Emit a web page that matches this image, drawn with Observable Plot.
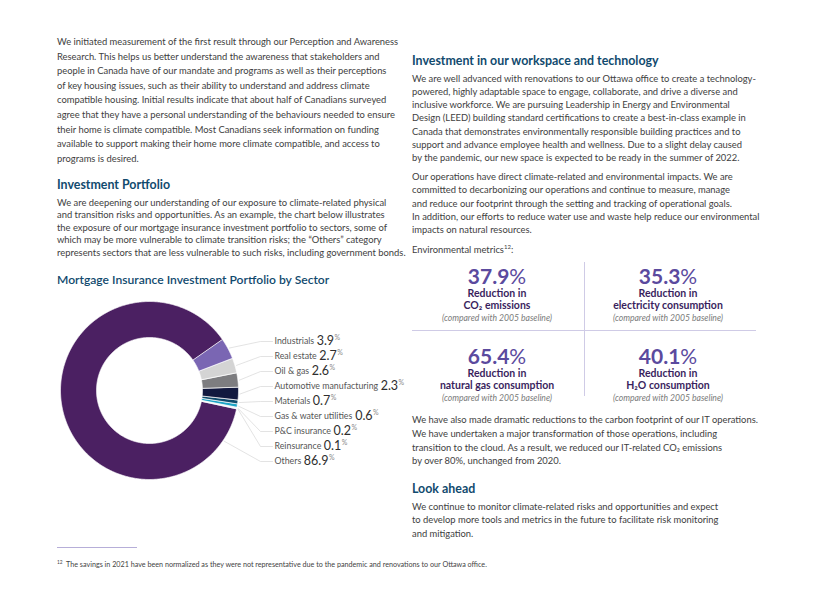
<!DOCTYPE html>
<html><head><meta charset="utf-8">
<script src="https://cdn.jsdelivr.net/npm/d3@7"></script>
<script src="https://cdn.jsdelivr.net/npm/@observablehq/plot@0.6"></script>
<style>
body{margin:0;background:#fff;}
#page{position:relative;width:820px;height:596px;font-family:Lato,"Open Sans",sans-serif;color:#3e3e3e;overflow:hidden;background:#fff}
.p{position:absolute;font-size:9.4px;white-space:nowrap}
.h{position:absolute;font-size:12.4px;font-weight:700;color:#114a6e;white-space:nowrap;line-height:14px}
.cell{position:absolute;width:170px;text-align:center;white-space:nowrap}
.big{font-size:21px;font-weight:700;color:#5b4a9e;line-height:22px}
.big span{font-weight:400}
.lab{font-size:10.5px;font-weight:700;color:#3a1f5e;line-height:12.3px}
.cmp{font-size:8.6px;font-style:italic;color:#7a7a7a;line-height:12px}
.rule{position:absolute;background:#cfcbe6}
#chart{position:absolute;left:50px;top:292px}
</style></head>
<body><div id="page">

<div class="p" style="left:57px;top:35px;line-height:14.6px">We initiated measurement of the first result through our Perception and Awareness<br>Research. This helps us better understand the awareness that stakeholders and<br>people in Canada have of our mandate and programs as well as their perceptions<br>of key housing issues, such as their ability to understand and address climate<br>compatible housing. Initial results indicate that about half of Canadians surveyed<br>agree that they have a personal understanding of the behaviours needed to ensure<br>their home is climate compatible. Most Canadians seek information on funding<br>available to support making their home more climate compatible, and access to<br>programs is desired.</div>

<div class="h" style="left:57px;top:178px">Investment Portfolio</div>
<div class="p" style="left:57px;top:196.5px;line-height:12.6px">We are deepening our understanding of our exposure to climate-related physical<br>and transition risks and opportunities. As an example, the chart below illustrates<br>the exposure of our mortgage insurance investment portfolio to sectors, some of<br>which may be more vulnerable to climate transition risks; the “Others” category<br>represents sectors that are less vulnerable to such risks, including government bonds.</div>

<div class="h" style="left:57px;top:273px;font-size:12.1px;font-weight:600">Mortgage Insurance Investment Portfolio by Sector</div>
<div id="chart"></div>

<div class="h" style="left:412px;top:54px">Investment in our workspace and technology</div>
<div class="p" style="left:412px;top:71.5px;line-height:13.3px">We are well advanced with renovations to our Ottawa office to create a technology-<br>powered, highly adaptable space to engage, collaborate, and drive a diverse and<br>inclusive workforce. We are pursuing Leadership in Energy and Environmental<br>Design (LEED) building standard certifications to create a best-in-class example in<br>Canada that demonstrates environmentally responsible building practices and to<br>support and advance employee health and wellness. Due to a slight delay caused<br>by the pandemic, our new space is expected to be ready in the summer of 2022.</div>
<div class="p" style="left:412px;top:170px;line-height:13.3px">Our operations have direct climate-related and environmental impacts. We are<br>committed to decarbonizing our operations and continue to measure, manage<br>and reduce our footprint through the setting and tracking of operational goals.<br>In addition, our efforts to reduce water use and waste help reduce our environmental<br>impacts on natural resources.</div>
<div class="p" style="left:412px;top:239.5px;line-height:14px">Environmental metrics<sup style="font-size:6px">12</sup>:</div>

<div class="rule" style="left:584px;top:262px;width:1px;height:134px"></div>
<div class="rule" style="left:412px;top:330px;width:344px;height:1px"></div>

<div class="cell" style="left:412px;top:265px"><div class="big">37.9<span>%</span></div><div class="lab">Reduction in</div><div class="lab">CO₂ emissions</div><div class="cmp">(compared with 2005 baseline)</div></div>
<div class="cell" style="left:583px;top:265px"><div class="big">35.3<span>%</span></div><div class="lab">Reduction in</div><div class="lab">electricity consumption</div><div class="cmp">(compared with 2005 baseline)</div></div>
<div class="cell" style="left:412px;top:345px"><div class="big">65.4<span>%</span></div><div class="lab">Reduction in</div><div class="lab">natural gas consumption</div><div class="cmp">(compared with 2005 baseline)</div></div>
<div class="cell" style="left:583px;top:345px"><div class="big">40.1<span>%</span></div><div class="lab">Reduction in</div><div class="lab">H₂O consumption</div><div class="cmp">(compared with 2005 baseline)</div></div>

<div class="p" style="left:412px;top:413px;line-height:13.8px">We have also made dramatic reductions to the carbon footprint of our IT operations.<br>We have undertaken a major transformation of those operations, including<br>transition to the cloud. As a result, we reduced our IT-related CO₂ emissions<br>by over 80%, unchanged from 2020.</div>
<div class="h" style="left:412px;top:482px">Look ahead</div>
<div class="p" style="left:412px;top:500px;line-height:13.3px">We continue to monitor climate-related risks and opportunities and expect<br>to develop more tools and metrics in the future to facilitate risk monitoring<br>and mitigation.</div>

<div class="rule" style="left:57px;top:547px;width:80px;height:1px;background:#b6aed8"></div>
<div class="p" style="left:57px;top:557px;font-size:7.2px;line-height:10px;color:#444"><sup style="font-size:4.8px">12</sup>&nbsp; The savings in 2021 have been normalized as they were not representative due to the pandemic and renovations to our Ottawa office.</div>

</div>
<script>
const sectors = ["Industrials","Real estate","Oil & gas","Automotive manufacturing","Materials","Gas & water utilities","P&C insurance","Reinsurance","Others"];
const shares = [3.9, 2.7, 2.6, 2.3, 0.7, 0.6, 0.2, 0.1, 86.9];
const colors = ["#7a66b3","#d4d4d4","#7d7d80","#12193f","#0f4b6c","#1ca3c5","#e4e7ee","#9a7dc2","#4b2062"];

const deg = Math.PI / 180;
const start = 55 * deg;
const R = 89, r0 = 53;
const arcs = d3.pie().sort(null).value(d => d).startAngle(start).endAngle(start + 2 * Math.PI)(shares);

const slicePts = [];
arcs.forEach((a, i) => {
  const n = Math.max(2, Math.ceil((a.endAngle - a.startAngle) / (0.5 * deg)));
  for (let k = 0; k <= n; k++) {
    const t = a.startAngle + (a.endAngle - a.startAngle) * k / n;
    slicePts.push({sector: sectors[i], x: R * Math.sin(t), y: R * Math.cos(t)});
  }
  for (let k = n; k >= 0; k--) {
    const t = a.startAngle + (a.endAngle - a.startAngle) * k / n;
    slicePts.push({sector: sectors[i], x: r0 * Math.sin(t), y: r0 * Math.cos(t)});
  }
});

const labelTop = 49, labelStep = 15, elbowX = 111, endX = 123, textX = 125;
const leaderPts = [];
const labels = [];
const ctx = document.createElement("canvas").getContext("2d");
const measure = (s, font) => { ctx.font = font; return ctx.measureText(s).width; };
const nameFont = "8.8px Lato", valFont = "12.5px Lato";
arcs.forEach((a, i) => {
  const t = i === arcs.length - 1 ? a.startAngle + 22 * deg : (a.startAngle + a.endAngle) / 2;
  const ly = labelTop - labelStep * i;
  const rr = R + 1.5;
  leaderPts.push({sector: sectors[i], x: rr * Math.sin(t), y: rr * Math.cos(t)});
  leaderPts.push({sector: sectors[i], x: elbowX, y: ly});
  leaderPts.push({sector: sectors[i], x: endX, y: ly});
  const val = shares[i].toFixed(1);
  const nx = textX;
  const vx = nx + measure(sectors[i], nameFont) + 2.5;
  const px = vx + measure(val, valFont) + 0.5;
  labels.push({name: sectors[i], val, nx, vx, px, y: ly});
});

const chart = Plot.plot({
  width: 360, height: 192, margin: 0,
  x: {domain: [-99, 261], axis: null},
  y: {domain: [-94, 98], axis: null},
  color: {domain: sectors, range: colors},
  style: {fontFamily: "Lato, sans-serif", background: "white"},
  marks: [
    Plot.line(leaderPts, {x: "x", y: "y", z: "sector", stroke: "#dcdcdc", strokeWidth: 0.8}),
    Plot.line(slicePts, {x: "x", y: "y", z: "sector", fill: "sector", stroke: "white", strokeWidth: 0.7, curve: "linear-closed"}),
    Plot.text(labels, {x: "nx", y: "y", text: "name", textAnchor: "start", fontSize: 8.8, fill: "#555"}),
    Plot.text(labels, {x: "vx", y: "y", text: "val", textAnchor: "start", fontSize: 12.5, fill: "#2e2e2e", dy: -0.5}),
    Plot.text(labels, {x: "px", y: "y", text: () => "%", textAnchor: "start", fontSize: 7, fill: "#8a8a8a", dy: -4})
  ]
});
document.getElementById("chart").appendChild(chart);
</script>
</body></html>
